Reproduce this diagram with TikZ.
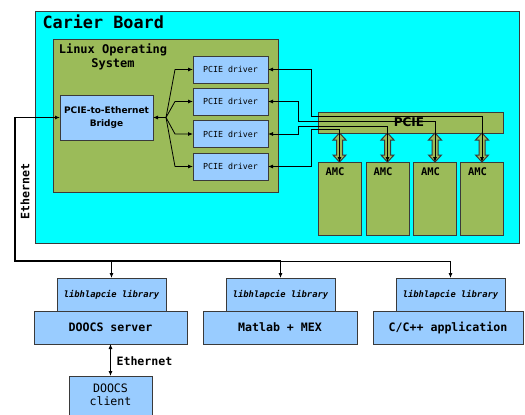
\documentclass[tikz,border=0pt]{standalone}
\usepackage{fontspec}
\setmainfont{DejaVu Sans}
\newfontfamily\monofont{DejaVu Sans Mono}
\usetikzlibrary{arrows.meta,calc}

\definecolor{boardcyan}{HTML}{00FFFF}
\definecolor{osgreen}{HTML}{9BBB59}
\definecolor{boxblue}{HTML}{99CCFF}
\definecolor{edgegray}{HTML}{3A3A3A}

\tikzset{
  wtip/.tip={Latex[length=5pt,width=4pt]},
  frame/.style={draw=edgegray, line width=0.9pt, inner sep=0pt, outer sep=0pt},
  bluebox/.style={frame, fill=boxblue},
  greenbox/.style={frame, fill=osgreen},
  driverbox/.style={bluebox, minimum width=75pt, minimum height=27pt,
    font=\monofont\fontsize{8.3}{10}\selectfont},
  amcbox/.style={greenbox, minimum width=43pt, minimum height=73pt},
  libbox/.style={bluebox, minimum width=109pt, minimum height=33pt,
    font=\monofont\bfseries\itshape\fontsize{8.8}{10}\selectfont},
  appbox/.style={bluebox, minimum height=33pt,
    font=\monofont\bfseries\fontsize{11.6}{14}\selectfont},
  wire/.style={draw=black, line width=0.8pt},
  fatarrow/.style={draw=edgegray, line width=1pt, fill=osgreen, line join=miter},
}

\begin{document}
\begin{tikzpicture}[x=1pt, y=-1pt]
\useasboundingbox (0,0) rectangle (525,415);
\clip (0,0) rectangle (525,415);
\fill[white] (0,0) rectangle (525,415);

% carrier board and operating system frames
\node[frame, fill=boardcyan, minimum width=484pt, minimum height=232pt] (board) at (277,127) {};
\node[anchor=base west, font=\monofont\bfseries\fontsize{16.8}{18}\selectfont] (boardtitle) at (39,28) {Carier Board};
\node[greenbox, minimum width=225pt, minimum height=153pt] (os) at (165.5,115.5) {};
\node[align=center, font=\monofont\bfseries\fontsize{12}{14}\selectfont, anchor=north] (ostitle) at (113,40) {Linux Operating\\System};

% bridge and drivers
\node[bluebox, minimum width=93pt, minimum height=45pt, align=center,
  font=\bfseries\fontsize{9}{13.5}\selectfont] (bridge) at (106.5,117.5) {PCIE-to-Ethernet\\Bridge};
\node[driverbox] (d1) at (230.5,69.5) {PCIE driver};
\node[driverbox] (d2) at (230.5,101.5) {PCIE driver};
\node[driverbox] (d3) at (230.5,134) {PCIE driver};
\node[driverbox] (d4) at (230.5,166.5) {PCIE driver};

% fan-out between the bridge and the drivers
\coordinate (fan) at (166,117.5);
\draw[wire, -{wtip}] (fan) -- (bridge.east);
\foreach \d in {d1,d2,d3,d4}
  \draw[wire, -{wtip}] (fan) -- ($(\d.west)+(-18,0)$) -- (\d.west);

% PCIE bus and AMC modules
\node[greenbox, minimum width=185pt, minimum height=21pt] (bus) at (410.5,122.5) {};
\node[amcbox] (a1) at (339.5,198.5) {};
\node[amcbox] (a2) at (387.5,198.5) {};
\node[amcbox] (a3) at (435,198.5) {};
\node[amcbox] (a4) at (482,198.5) {};
\foreach \a in {a1,a2,a3,a4} {
  \node[anchor=base west, font=\monofont\bfseries\fontsize{10.5}{12}\selectfont] at ($(\a.north west)+(4,13)$) {AMC};
  % block double arrow between the bus and the module
  \begin{scope}[shift={(\a.north)}]
    \draw[fatarrow] (0,-29) -- (6.5,-22) -- (3,-22) -- (3,-7) -- (6.5,-7) -- (0,0)
      -- (-6.5,-7) -- (-3,-7) -- (-3,-22) -- (-6.5,-22) -- cycle;
  \end{scope}
}

% driver-to-module links across the bus
\draw[wire, {wtip}-{wtip}] (d1.east) -- ++(43,0) |- ($(a4.north)+(0,-46)$) -- (a4.north);
\draw[wire, {wtip}-{wtip}] (d2.east) -- ++(30,0) |- ($(a3.north)+(0,-41)$) -- (a3.north);
\draw[wire, {wtip}-{wtip}] (d3.east) -- ++(30,0) |- ($(a2.north)+(0,-36)$) -- (a2.north);
\draw[wire, {wtip}-{wtip}] (d4.east) -- ++(43,0) |- ($(a1.north)+(0,-33)$) -- (a1.north);
\node[font=\bfseries\fontsize{12}{14}\selectfont] (buslabel) at (409,122.5) {PCIE};

% host applications
\node[libbox] (lib1) at (111.5,294.5) {libhlapcie library};
\node[libbox] (lib2) at (280.5,294.5) {libhlapcie library};
\node[libbox] (lib3) at (450.5,294.5) {libhlapcie library};
\node[appbox, minimum width=153pt] (app1) at (110.5,327.5) {DOOCS server};
\node[appbox, minimum width=154pt] (app2) at (280,327.5) {Matlab + MEX};
\node[appbox, minimum width=150pt] (app3) at (448,327.5) {C/C++ application};
\node[bluebox, minimum width=83pt, minimum height=48pt, anchor=north] (client) at (110.5,376) {};
\node[align=center, font=\monofont\fontsize{11.6}{13.5}\selectfont, anchor=north] (clientlabel) at (110.5,380) {DOOCS\\client};

% Ethernet links
\coordinate (ecorner) at (15,261);
\draw[wire, line width=1.3pt, {wtip}-] (bridge.west) -| (ecorner) -- (lib2.north |- ecorner);
\draw[wire] (lib2.north |- ecorner) -- (lib3.north |- ecorner);
\foreach \l in {lib1,lib2,lib3}
  \draw[wire, -{wtip}] (\l.north |- ecorner) -- (\l.north);
\node[rotate=90, font=\monofont\bfseries\fontsize{11.6}{14}\selectfont] (ethlabel) at (25,191.5) {Ethernet};
\draw[wire, {wtip}-{wtip}] (app1.south) -- (client.north);
\node[anchor=west, font=\monofont\bfseries\fontsize{11.6}{14}\selectfont] (ethlabel2) at (113,361) {Ethernet};
\end{tikzpicture}
\end{document}
